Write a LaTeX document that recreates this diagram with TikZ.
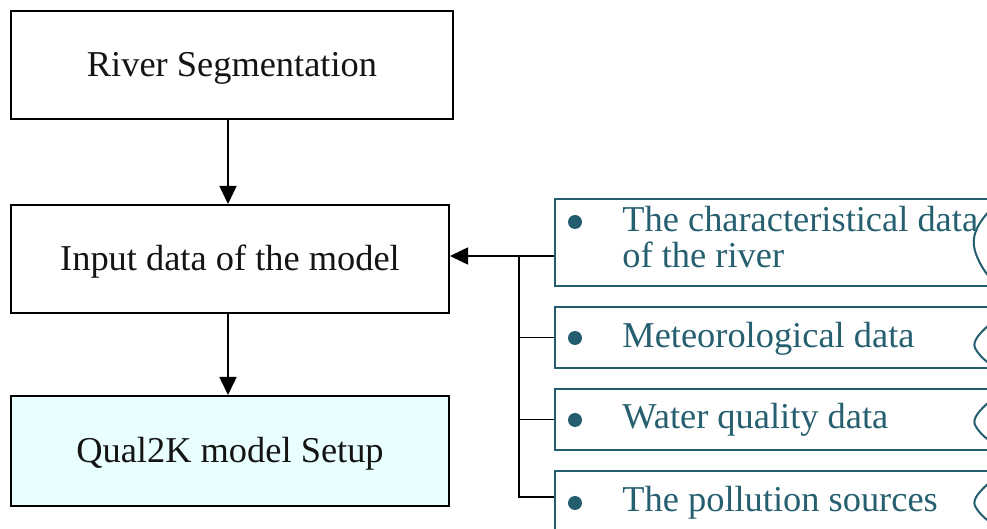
\documentclass[tikz,border=0pt]{standalone}
\usepackage{fontspec}
\setmainfont{Liberation Serif}
\usetikzlibrary{arrows.meta}
\definecolor{tealline}{RGB}{36,94,110}
\definecolor{tealtext}{RGB}{38,96,112}
\definecolor{setupfill}{RGB}{233,255,255}
\definecolor{inktext}{RGB}{20,20,20}
\begin{document}
\begin{tikzpicture}[x=0.5pt,y=-0.5pt,
  every node/.style={font=\fontsize{18.2}{19}\selectfont},
  stagebox/.style={draw=black, line width=1pt, rectangle, inner sep=0pt,
    text=inktext, text height=1.12em, text depth=0em, fill=white},
  databox/.style={draw=tealline, line width=1.1pt, rectangle, inner sep=0pt,
    fill=white, anchor=north west, minimum width=240pt},
  itemtext/.style={text=tealtext, inner sep=0pt, anchor=base west},
  bulletdot/.style={circle, fill=tealline, inner sep=0pt, minimum size=7pt},
  link/.style={draw=black, line width=0.8pt},
  flowarrow/.style={link, -{Triangle[length=9pt,width=8.5pt]}},
  sidearc/.pic={\draw[tealline, line width=1pt]
    (16,-23) .. controls (6,-14) and (-2,-6) .. (1,1)
    .. controls (4,7) and (10,13) .. (16,17);},
  widearc/.pic={\draw[tealline, line width=1pt]
    (18,-37) .. controls (2,-20) and (-3,-8) .. (1,6)
    .. controls (4,16) and (10,26) .. (16,33);}
]
\clip (0,0) rectangle (987,529);
\fill[white] (0,0) rectangle (987,529);

% main process chain
\node[stagebox, minimum width=221pt, minimum height=54pt] (seg) at (232,65) {River Segmentation};
\node[stagebox, minimum width=219pt, minimum height=54pt] (inp) at (230,259) {Input data of the model};
\node[stagebox, minimum width=219pt, minimum height=55pt, fill=setupfill] (setup) at (230,451) {Qual2K model Setup};

\coordinate (ax) at (228,0);
\draw[flowarrow] (ax |- seg.south) -- (ax |- inp.north);
\draw[flowarrow] (ax |- inp.south) -- (ax |- setup.north);

% input data sources
\node[databox, minimum height=43.5pt] (ra) at (554,198) {};
\node[databox, minimum height=30.5pt] (rb) at (554,306) {};
\node[databox, minimum height=30.5pt] (rc) at (554,388) {};
\node[databox, minimum height=40pt] (rd) at (554,470) {};

\node[bulletdot] (ba) at (575,222) {};
\node[bulletdot] (bb) at (575,338) {};
\node[bulletdot] (bc) at (575,420) {};
\node[bulletdot] (bd) at (575,503) {};

\node[itemtext] (ta) at (622,232) {The characteristical data};
\node[itemtext] (ta2) at (622,268) {of the river};
\node[itemtext] (tb) at (622,348) {Meteorological data};
\node[itemtext] (tc) at (622,429) {Water quality data};
\node[itemtext] (td) at (622,512) {The pollution sources};

\pic at (974,245) {widearc};
\pic at (974,347) {sidearc};
\pic at (974,424) {sidearc};
\pic at (974,505) {sidearc};

% collector lines into the input box
\coordinate (jt) at (519,256);
\coordinate (jb) at (519,497);
\draw[flowarrow] (ra.west |- jt) -- (inp.east |- jt);
\draw[link] (jt) -- (jb) -- (rd.west |- jb);
\draw[link] (rb.west) -- (rb.west -| jt);
\draw[link] (rc.west) -- (rc.west -| jt);
\end{tikzpicture}
\end{document}
